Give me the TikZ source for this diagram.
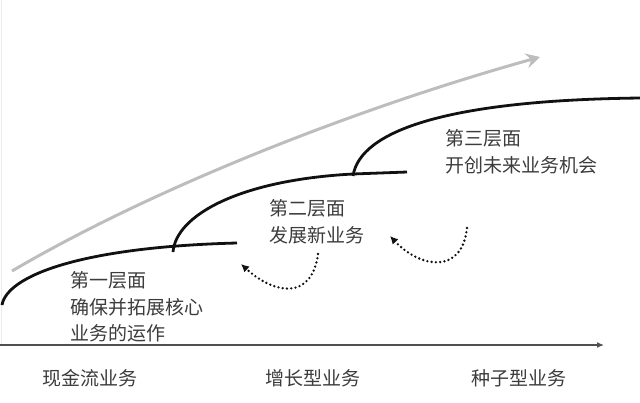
\documentclass[tikz,border=0pt]{standalone}
\usepackage{fontspec}
\setmainfont{Noto Sans CJK SC}
\usepackage{xcolor}
\definecolor{curveink}{HTML}{111111}
\definecolor{trendgray}{HTML}{BDBDBD}
\definecolor{axisgray}{HTML}{505050}
\definecolor{textgray}{HTML}{3C3C3C}
\usepackage{tikz}
\usetikzlibrary{positioning,arrows.meta}

\begin{document}
\begin{tikzpicture}[x=1pt, y=-1pt,
    label/.style={anchor=west, inner sep=0pt, align=left, text=textgray,
                  font=\fontsize{19}{26.7}\selectfont},
    layer/.style={curveink, line width=2.8pt},
    hop/.style={curveink, line width=2.6pt, line cap=round, dash pattern=on 0pt off 4.3pt,
                -{Latex[length=8pt,width=8pt]}}]
    \useasboundingbox (0,0) rectangle (640,402);
    % axes
    \draw[black!8, line width=1pt] (1,0) -- (1,345);
    \coordinate (origin) at (0,345);
    \coordinate (axisend) at (604,345);
    \draw[axisgray, line width=1.3pt, -{Latex[length=7pt,width=6pt]}] (origin) -- (axisend);
    % trend
    \coordinate (trendstart) at (12,271);
    \coordinate (trendtip) at (540,57);
    \draw[trendgray, line width=3pt, -{Stealth[length=14pt,width=15pt,inset=5pt]}]
      (trendstart) .. controls (150,190) and (350,110) .. (trendtip);
    % layers
    \coordinate (fork1) at (173,252);
    \coordinate (fork2) at (353,176);
    \draw[layer] (2,305) .. controls (7,276) and (80,247) .. (237,243);
    \draw[layer] (fork1) .. controls (176,215) and (240,180) .. (353,174) -- (407,172);
    \draw[layer] (fork2) .. controls (360,130) and (450,100) .. (641,98);
    % labels
    \node[label] (layer1) at (70,307) {第一层面\\确保并拓展核心\\业务的运作};
    \node[label] (layer2) at (269,222) {第二层面\\发展新业务};
    \node[label] (layer3) at (445,152) {第三层面\\开创未来业务机会};
    \foreach \name/\x/\txt in {cash/90/现金流业务, growth/313/增长型业务, seed/519/种子型业务}
      \node[label, anchor=center] (\name) at (\x,378) {\txt};
    % hops
    \coordinate (hopA) at (318,254);
    \coordinate (hopAend) at (241,264);
    \coordinate (hopB) at (467,228);
    \coordinate (hopBend) at (390,236);
    \draw[hop] (hopA) .. controls (312,300) and (275,295) .. (hopAend);
    \draw[hop] (hopB) .. controls (462,275) and (420,268) .. (hopBend);
  \end{tikzpicture}
\end{document}
